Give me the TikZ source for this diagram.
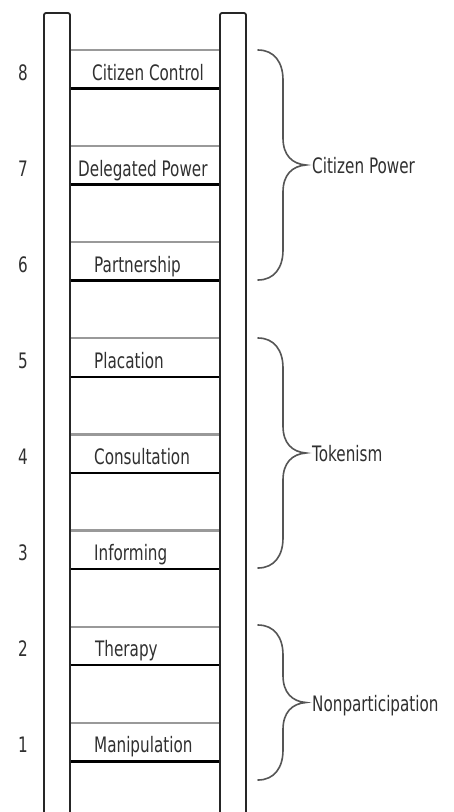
\documentclass[tikz,border=0pt]{standalone}
\usepackage{fontspec}
\setmainfont{DejaVu Sans}
\usepackage{graphicx}
\newcommand{\tallt}[1]{\scalebox{1}[1.4]{#1}}
\definecolor{txt}{HTML}{303030}
\definecolor{topline}{HTML}{999999}
\definecolor{bracec}{HTML}{555555}
\begin{document}
\begin{tikzpicture}[x=1pt,y=-1pt,
  rail/.style={draw=black!85,line width=1.8pt,rounded corners=2pt},
  rungtop/.style={draw=topline,line width=2.2pt},
  rungbot/.style={draw=black,line width=2.6pt},
  lbl/.style={inner sep=0pt,text=txt,font=\fontsize{15.2}{18}\selectfont},
  bracestyle/.style={draw=bracec,line width=1.6pt,line cap=round}]
\useasboundingbox (0,0) rectangle (453,812);
\fill[white] (0,0) rectangle (453,812);
% rails
\draw[rail] (44,815) -- (44,13) -- (70,13) -- (70,815);
\draw[rail] (220,815) -- (220,13) -- (246,13) -- (246,815);
% rungs
\foreach \k/\name/\xx in {8/Citizen Control/92,7/Delegated Power/78,6/Partnership/94,5/Placation/94,4/Consultation/94,3/Informing/94,2/Therapy/95,1/Manipulation/94}{
  \pgfmathsetmacro{\yt}{50+96.1*(8-\k)}
  \pgfmathsetmacro{\yb}{\yt+38.5}
  \pgfmathsetmacro{\ybase}{\yb-8.5}
  \draw[rungtop] (70.9,\yt) -- (219.1,\yt);
  \draw[rungbot] (70.9,\yb) -- (219.1,\yb);
  \node[lbl,anchor=base] (n\k) at (23,\ybase) {\tallt{\k}};
  \node[lbl,anchor=base west] (t\k) at (\xx,\ybase) {\tallt{\name}};
}
% braces
\foreach \top/\bot/\nm/\lab in {50/280/cp/Citizen Power,338/568/tk/Tokenism,625/780/np/Nonparticipation}{
  \pgfmathsetmacro{\mid}{(\top+\bot)/2}
  \draw[bracestyle] (258,\top) .. controls (274,\top) and (283,\top+12) .. (283,\top+30)
     -- (283,\mid-27) .. controls (283,\mid-10) and (292,\mid-1) .. (306,\mid)
     .. controls (292,\mid+1) and (283,\mid+10) .. (283,\mid+27)
     -- (283,\bot-30) .. controls (283,\bot-12) and (274,\bot) .. (258,\bot);
  \node[lbl,anchor=base west] (\nm) at (312,\mid+8.5) {\tallt{\lab}};
}
\end{tikzpicture}
\end{document}
